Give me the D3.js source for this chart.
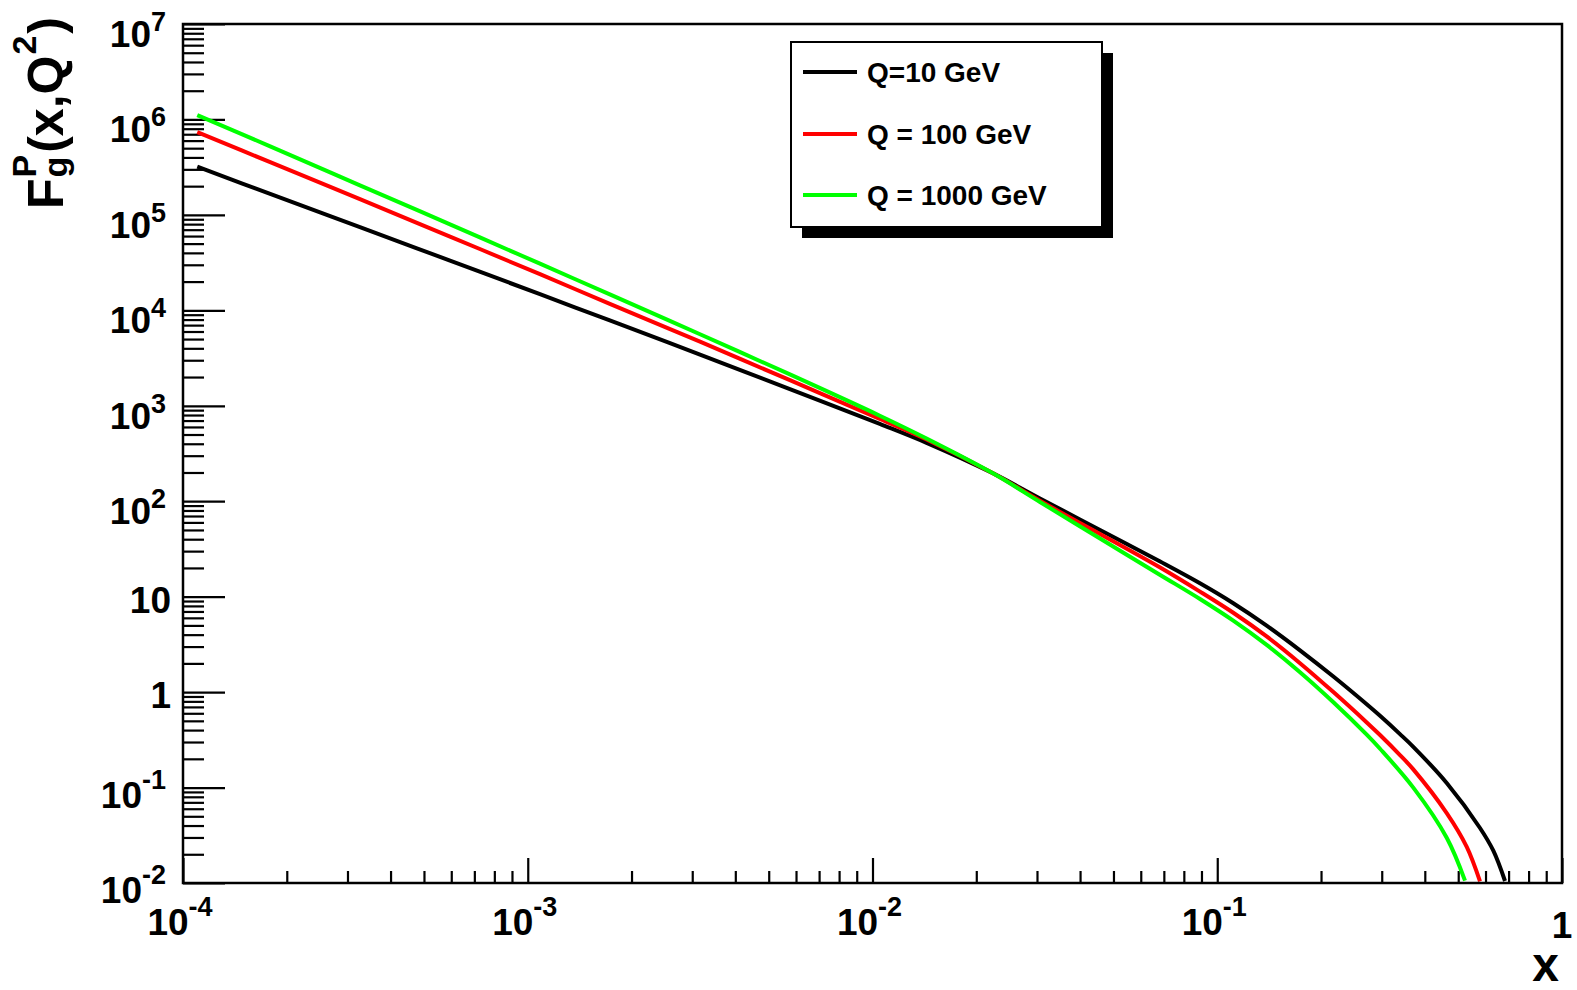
<!DOCTYPE html>
<html><head><meta charset="utf-8">
<script src="https://cdn.jsdelivr.net/npm/d3@7"></script>
<style>
body{margin:0;background:#fff}
svg{display:block}
text{font-family:"Liberation Sans",Arial,Helvetica,sans-serif;font-weight:bold;fill:#000}
</style>
</head><body>
<svg id="c" width="1577" height="990"></svg>
<script>
// ---- data ----
const xQ10   = [1.1e-4,1.79e-4,3.26e-4,5.95e-4,1.085e-3,1.73e-3,3.16e-3,5.76e-3,1.05e-2,1.435e-2,2.236e-2,3.06e-2,4.57e-2,6.83e-2,8.91e-2,0.1113,0.1391,0.1738,0.2172,0.2714,0.2966,0.3389,0.3704,0.463,0.5783,0.6321,0.6834];
const fQ10   = [3.2e5,1.66e5,7.43e4,3.32e4,1.476e4,7830,3440,1496,645,409,196,107,50,23.3,13.8,8.53,4.97,2.74,1.455,0.745,0.564,0.363,0.267,0.1117,0.0377,0.0218,0.0105];
const xQ100  = [1.1e-4,1.79e-4,3.26e-4,5.95e-4,1.085e-3,1.73e-3,3.16e-3,5.76e-3,1.05e-2,1.435e-2,2.236e-2,3.06e-2,4.57e-2,6.83e-2,8.91e-2,0.1113,0.1391,0.1738,0.2172,0.2714,0.2966,0.3389,0.3704,0.463,0.5293,0.5783];
const fQ100  = [7.35e5,3.57e5,1.46e5,5.93e4,2.39e4,1.17e4,4690,1854,728,444,196,101,45.4,20.2,11.3,6.78,3.83,2.01,1.00,0.481,0.355,0.219,0.155,0.054,0.0239,0.0104];
const xQ1000 = [1.1e-4,1.79e-4,3.26e-4,5.95e-4,1.085e-3,1.73e-3,3.16e-3,5.76e-3,1.05e-2,1.435e-2,2.236e-2,3.06e-2,4.57e-2,6.83e-2,8.91e-2,0.1113,0.1391,0.1738,0.2172,0.2714,0.2966,0.3704,0.463,0.5232];
const fQ1000 = [1.11e6,5.22e5,2.04e5,7.96e4,3.08e4,1.47e4,5610,2130,787,454,196,98.2,40.7,16.9,9.46,5.61,3.12,1.614,0.782,0.358,0.255,0.0998,0.0298,0.0106];
const seriesNames  = ["Q=10 GeV","Q = 100 GeV","Q = 1000 GeV"];
const seriesColors = ["#000000","#ff0000","#00ff00"];
const yTickExps = [7,6,5,4,3,2,1,0,-1,-2];
const xTickExps = [-4,-3,-2,-1,0];

// ---- layout ----
const svg = d3.select("#c");
const m = {l:183, r:1562, t:24, b:883};
const x = d3.scaleLog().domain([1e-4,1]).range([m.l,m.r]);
const y = d3.scaleLog().domain([1e-2,1e7]).range([m.b,m.t]);

svg.append("defs").append("clipPath").attr("id","clip")
  .append("rect").attr("x",m.l).attr("y",m.t).attr("width",m.r-m.l).attr("height",m.b-m.t);

// minor / major tick values
function minors(lo,hi){const v=[];for(let e=lo;e<hi;e++)for(let k=2;k<=9;k++)v.push(k*Math.pow(10,e));return v;}
const yMinor = minors(-2,7), yMajor = yTickExps.map(e=>Math.pow(10,e));
const xMinor = minors(-4,0), xMajor = xTickExps.map(e=>Math.pow(10,e));

const axG = svg.append("g");
function styleAxis(g){g.select(".domain").remove();g.selectAll("line").attr("stroke","#000").attr("stroke-width",2.2);g.selectAll("text").remove();}
axG.append("g").attr("transform",`translate(${m.l},0)`).call(d3.axisLeft(y).tickValues(yMinor).tickSize(-21).tickFormat("")).call(styleAxis);
axG.append("g").attr("transform",`translate(${m.l},0)`).call(d3.axisLeft(y).tickValues(yMajor).tickSize(-42).tickFormat("")).call(styleAxis);
axG.append("g").attr("transform",`translate(0,${m.b})`).call(d3.axisBottom(x).tickValues(xMinor).tickSize(-12).tickFormat("")).call(styleAxis);
axG.append("g").attr("transform",`translate(0,${m.b})`).call(d3.axisBottom(x).tickValues(xMajor).tickSize(-25).tickFormat("")).call(styleAxis);

// curves
const series = [[xQ10,fQ10],[xQ100,fQ100],[xQ1000,fQ1000]];
const line = d3.line().x(d=>x(d[0])).y(d=>y(d[1])).curve(d3.curveCatmullRom.alpha(0.5));
const cg = svg.append("g").attr("clip-path","url(#clip)");
series.forEach((s,i)=>{
  const pts = s[0].map((v,j)=>[v,s[1][j]]);
  cg.append("path").datum(pts).attr("d",line).attr("fill","none")
    .attr("stroke",seriesColors[i]).attr("stroke-width",4).attr("stroke-linejoin","round");
});

// frame
svg.append("rect").attr("x",m.l).attr("y",m.t).attr("width",m.r-m.l).attr("height",m.b-m.t)
  .attr("fill","none").attr("stroke","#000").attr("stroke-width",2.5);

// tick labels
const FS = 37, ES = 27;
function powLabel(g, e){
  const t = g.append("text").style("font-size",FS+"px");
  if(e===0){t.text("1");return t;}
  if(e===1){t.text("10");return t;}
  t.append("tspan").text("10");
  t.append("tspan").style("font-size",ES+"px").attr("dy",e<0?-19:-16).text(String(e));
  return t;
}
yTickExps.forEach(e=>{
  const yy = y(Math.pow(10,e));
  const t = powLabel(svg,e).attr("text-anchor","end");
  if(e===0||e===1){t.attr("x",171).attr("y",yy+16);}
  else {t.attr("x",166).attr("y",yy+(e<0?20:23));}
});
xTickExps.forEach(e=>{
  const xx = x(Math.pow(10,e));
  const t = powLabel(svg,e).attr("text-anchor","middle");
  if(e===0){t.attr("x",xx).attr("y",938);}
  else {t.attr("x",xx-3).attr("y",935);}
});

// axis titles
svg.append("text").attr("x",1559).attr("y",981).attr("text-anchor","end").style("font-size","48px").text("x");

const tg = svg.append("g");
function piece(txt,fs,dy){
  return tg.append("text").style("font-size",fs+"px").attr("y",dy).text(txt);
}
let cx = 0;
const F = piece("F",50,0); F.attr("x",cx); cx += F.node().getComputedTextLength();
const sub = piece("g",34,4); sub.attr("x",cx+1);
const sup = piece("P",34,-27); sup.attr("x",cx+1);
cx += Math.max(sub.node().getComputedTextLength(), sup.node().getComputedTextLength())+3;
const p1 = piece("(x,Q",50,0); p1.attr("x",cx); cx += p1.node().getComputedTextLength();
const s2 = piece("2",34,-27); s2.attr("x",cx+1); cx += s2.node().getComputedTextLength()+3;
const p2 = piece(")",50,0); p2.attr("x",cx); cx += p2.node().getComputedTextLength();
tg.attr("transform",`translate(63,${17+cx}) rotate(-90)`);

// legend
const lg = svg.append("g");
lg.append("rect").attr("x",802).attr("y",53).attr("width",311).attr("height",185).attr("fill","#000");
lg.append("rect").attr("x",791).attr("y",42).attr("width",311).attr("height",185).attr("fill","#fff").attr("stroke","#000").attr("stroke-width",2);
const rowsY = [72,134,195];
seriesNames.forEach((n,i)=>{
  lg.append("line").attr("x1",803).attr("x2",857).attr("y1",rowsY[i]).attr("y2",rowsY[i])
    .attr("stroke",seriesColors[i]).attr("stroke-width",4);
  lg.append("text").attr("x",867).attr("y",rowsY[i]+10).style("font-size","28px").text(n);
});
</script>
</body></html>
